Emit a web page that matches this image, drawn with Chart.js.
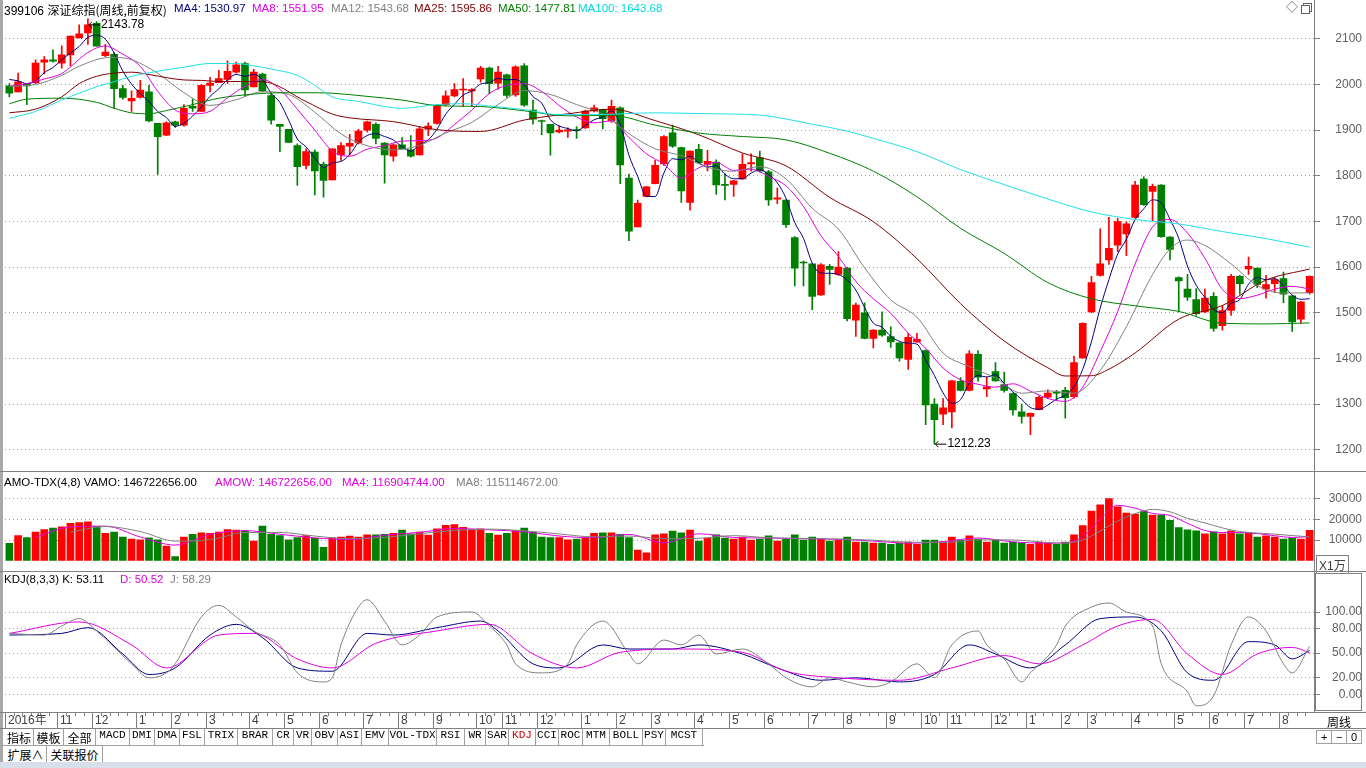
<!DOCTYPE html>
<html>
<head>
<meta charset="utf-8">
<title>399106 深证综指 周线</title>
<script src="https://cdn.jsdelivr.net/npm/chart.js@4.4.1/dist/chart.umd.min.js"></script>
<style>
  html, body { margin: 0; padding: 0; background: #fff; }
  body { position: relative; width: 1366px; height: 768px; overflow: hidden;
         font: 12px "Liberation Sans", Arial, "Noto Sans CJK SC", sans-serif; color: #000; }
  canvas { position: absolute; left: 0; }
  .t { position: absolute; white-space: nowrap; line-height: 14px; }
  .h { font-size: 11.5px; }
  .ln { position: absolute; background: #808080; }
  .tab { position: absolute; height: 16px; line-height: 16px; text-align: center; box-sizing: border-box;
         border-right: 1px solid #a0a0a0; font: 11px "Liberation Mono", monospace; }
  .cn { font: 12px "Noto Sans CJK SC", sans-serif; }
</style>
</head>
<body>
<canvas id="price" width="1366" height="471" style="top:0"></canvas>
<canvas id="vol" width="1366" height="100" style="top:471px"></canvas>
<canvas id="kdj" width="1366" height="158" style="top:571px"></canvas>

<!-- frame lines -->
<div class="ln" style="left:0;top:0;width:3px;height:762px;background:#a8a8a8"></div>
<div class="ln" style="left:1314px;top:0;width:1px;height:712px"></div>
<div class="ln" style="left:0;top:471px;width:1366px;height:1px"></div>
<div class="ln" style="left:0;top:571px;width:1366px;height:1px"></div>
<div class="ln" style="left:0;top:712px;width:1366px;height:1px"></div>
<div class="ln" style="left:0;top:728px;width:1366px;height:1px"></div>
<div class="ln" style="left:0;top:745px;width:704px;height:1px;background:#a0a0a0"></div>
<div class="ln" style="left:0;top:762px;width:1366px;height:6px;background:#d6dfea"></div>

<!-- panel headers -->
<div class="t" style="left:4px;top:1px">399106 <span class="cn">深证综指(周线,前复权)</span></div>
<div class="t h" style="left:174px;top:1px;color:#000080">MA4: 1530.97</div>
<div class="t h" style="left:252px;top:1px;color:#e000e0">MA8: 1551.95</div>
<div class="t h" style="left:331px;top:1px;color:#808080">MA12: 1543.68</div>
<div class="t h" style="left:414px;top:1px;color:#800000">MA25: 1595.86</div>
<div class="t h" style="left:498px;top:1px;color:#008000">MA50: 1477.81</div>
<div class="t h" style="left:578px;top:1px;color:#00d8e0">MA100: 1643.68</div>
<div class="t" style="left:1286px;top:1px;color:#606060">◇</div>
<div style="position:absolute;left:1303px;top:3px;width:7px;height:7px;border:1px solid #606060"></div>
<div style="position:absolute;left:1301px;top:5px;width:7px;height:7px;border:1px solid #606060;background:#fff"></div>

<div class="t h" style="left:4px;top:475px">AMO-TDX(4,8) VAMO: 146722656.00</div>
<div class="t h" style="left:215px;top:475px;color:#e000e0">AMOW: 146722656.00</div>
<div class="t h" style="left:342px;top:475px;color:#e000e0">MA4: 116904744.00</div>
<div class="t h" style="left:456px;top:475px;color:#808080">MA8: 115114672.00</div>
<div class="t" style="left:1316px;top:555px;border:1px solid #808080;padding:0 2px;line-height:12px;color:#404040">X1<span class="cn">万</span></div>

<div class="t h" style="left:4px;top:572px">KDJ(8,3,3) K: 53.11</div>
<div class="t h" style="left:120px;top:572px;color:#e000e0">D: 50.52</div>
<div class="t h" style="left:170px;top:572px;color:#808080">J: 58.29</div>
<div style="position:absolute;left:1315px;top:573px;width:47px;height:138px;border:1px solid #808080;box-sizing:border-box"></div>

<div class="t cn" style="left:1327px;top:713px">周线</div>
<div class="t" style="left:1316px;top:730px;width:46px;height:14px;border:1px solid #a0a0a0;box-sizing:border-box;line-height:12px;font-size:11px">
  <span style="position:absolute;left:4px">+</span><span style="position:absolute;left:14px;top:0;width:1px;height:12px;background:#a0a0a0"></span>
  <span style="position:absolute;left:19px">−</span><span style="position:absolute;left:29px;top:0;width:1px;height:12px;background:#a0a0a0"></span>
  <span style="position:absolute;left:34px">0</span>
</div>

<div id="tabs"></div>

<script>
// ---------------- weekly candles ----------------
const opens = [
  1997,1984,2002,2004,2049,2054,2047,2065,2102,2113, 2134,2063,2066,1991,1964,1972,1984,1915,1889,1918,
  1911,1952,1941,1998,2004,2011,2027,2046,1995,2023, 1976,1913,1902,1866,1823,1852,1825,1791,1846,1865,
  1872,1900,1913,1872,1843,1868,1857,1846,1902,1915, 1956,1975,1988,1986,2012,2036,2003,2021,1977,2041,
  1944,1921,1913,1896,1898,1901,1905,1942,1945,1921, 1949,1795,1688,1755,1783,1826,1894,1862,1742,1858,
  1825,1830,1781,1781,1793,1826,1840,1809,1749,1747, 1665,1611,1607,1539,1602,1584,1598,1484,1500,1444,
  1462,1448,1434,1398,1436,1417,1300,1278,1283,1350, 1330,1409,1333,1371,1343,1323,1283,1273,1288,1315,
  1325,1330,1316,1401,1502,1582,1616,1648,1673,1709, 1793,1766,1780,1666,1577,1552,1529,1502,1536,1472,
  1505,1580,1596,1598,1552,1564,1575,1537,1486,1544
];
const highs = [
  2002,2025,2002,2054,2061,2076,2085,2106,2131,2143.78, 2138,2088,2070,1998,1986,2009,1998,1915,1918,1920,
  1956,1968,2000,2016,2031,2052,2049,2049,2033,2025, 1981,1913,1902,1870,1859,1857,1830,1859,1873,1891,
  1902,1920,1916,1873,1870,1884,1888,1907,1916,1956, 1986,2002,2013,1991,2040,2038,2040,2023,2041,2046,
  1966,1922,1913,1909,1905,1908,1944,1955,1946,1966, 1951,1804,1747,1777,1834,1888,1911,1863,1855,1869,
  1856,1835,1805,1790,1848,1848,1854,1812,1773,1748, 1667,1613,1607,1608,1606,1634,1600,1521,1522,1463,
  1502,1469,1434,1455,1455,1419,1312,1312,1352,1358, 1417,1417,1359,1391,1370,1324,1300,1281,1318,1331,
  1330,1337,1405,1478,1580,1684,1709,1707,1699,1788, 1798,1782,1781,1667,1579,1584,1553,1552,1544,1516,
  1584,1582,1622,1598,1582,1577,1589,1537,1525,1581
];
const lows = [
  1973,1984,1956,2002,2023,2049,2036,2041,2102,2088, 2084,2061,1948,1968,1941,1970,1918,1803,1888,1906,
  1909,1941,1941,1984,2004,2002,2025,1975,1995,1984, 1913,1853,1873,1779,1815,1758,1753,1791,1834,1846,
  1870,1896,1870,1784,1832,1859,1841,1845,1888,1913, 1953,1973,1952,1952,2005,1980,1990,1972,1974,1952,
  1913,1890,1845,1894,1884,1882,1904,1940,1903,1917, 1783,1658,1688,1754,1782,1823,1862,1742,1725,1827,
  1811,1759,1747,1755,1792,1810,1808,1735,1739,1687, 1559,1559,1507,1538,1562,1582,1482,1448,1443,1423,
  1448,1424,1394,1376,1435,1255,1212.23,1255,1248,1329, 1329,1350,1316,1350,1326,1276,1258,1233,1287,1312,
  1308,1269,1313,1400,1500,1580,1606,1634,1625,1707, 1735,1702,1665,1616,1502,1527,1494,1500,1460,1462,
  1494,1541,1584,1555,1532,1544,1522,1459,1477,1541
];
const closes = [
  1981,2006,1997,2047,2054,2051,2065,2106,2111,2131, 2084,2071,1991,1972,1970,1988,1920,1886,1916,1911,
  1948,1948,1998,2003,2013,2029,2043,1988,2027,1986, 1922,1908,1873,1820,1853,1811,1790,1859,1866,1871,
  1898,1918,1882,1846,1868,1859,1843,1903,1909,1953, 1975,1989,1990,1989,2036,2002,2027,1976,2039,1955,
  1924,1919,1894,1900,1901,1899,1942,1949,1925,1952, 1824,1679,1740,1776,1823,1886,1865,1767,1854,1829,
  1832,1780,1779,1789,1825,1829,1810,1747,1752,1693, 1598,1609,1536,1605,1595,1600,1487,1517,1444,1462,
  1451,1436,1401,1446,1442,1298,1266,1292,1351,1330, 1410,1359,1338,1351,1330,1287,1273,1280,1315,1324,
  1324,1314,1391,1477,1566,1607,1641,1700,1695,1780, 1737,1777,1667,1639,1570,1534,1498,1532,1466,1505,
  1580,1564,1602,1562,1562,1573,1541,1480,1524,1580
];

// moving averages as drawn on the chart
const ma4 = [
  2011,2008,2002,2007.8,2026,2037.3,2054.3,2069,2083.3,2103.3, 2108,2099.3,2069.3,2029.5,2001,1980.3,1962.5,1941,1927.5,1908.3,
  1915.3,1930.8,1951.3,1974.3,1990.5,2010.8,2022,2018.3,2021.8,2011, 1980.8,1960.8,1922.3,1880.8,1863.5,1839.3,1818.5,1828.3,1831.5,1846.5,
  1873.5,1888.3,1892.3,1886,1878.5,1863.8,1854,1868.3,1878.5,1902, 1935,1956.5,1976.8,1985.8,2001,2004.3,2013.5,2010.3,2011,1999.3,
  1973.5,1959.3,1923,1909.3,1903.5,1898.5,1910.5,1922.8,1928.8,1942, 1912.5,1845,1798.8,1754.8,1754.5,1806,1837.5,1835,1843,1829,
  1819,1822,1803.5,1793.5,1794,1806,1813.5,1803,1784.5,1750.5, 1697.5,1663,1609,1587,1586.5,1584,1571.8,1549.8,1512,1477.5,
  1468.5,1448.3,1437.5,1433.5,1431.3,1396.8,1363,1324.5,1301.8,1309.8, 1345.8,1362.5,1359.3,1364.5,1344.5,1326.5,1310.3,1292.5,1288.8,1298,
  1310.8,1319.3,1338.3,1376.5,1437,1510.3,1572.8,1628.5,1660.8,1704, 1728,1747.3,1740.3,1705,1663.3,1602.5,1560.3,1533.5,1507.5,1500.3,
  1520.8,1528.8,1562.8,1577,1572.5,1574.8,1559.5,1539,1529.5,1530.97
];
// [week, value]
const ma8 = [[1,1996],[3,2002],[5,2012],[7,2024],[8,2038.4],[10,2070.3],[12,2084.1],[14,2066.4],[16,2039.8],[18,1985.3],
  [20,1944.3],[22,1935.9],[24,1941.3],[26,1970.8],[28,1996.3],[30,2010.9],[32,1989.5],[34,1945.9],[36,1900],[38,1854.5],
  [40,1842.9],[42,1858.3],[44,1866.3],[46,1876],[48,1877.1],[50,1882.9],[52,1912.4],[54,1943.9],[56,1980.4],[58,1998],
  [60,2001.8],[62,1984.8],[64,1954.3],[66,1928.9],[68,1916],[70,1920.3],[72,1883.9],[74,1848.4],[76,1825.6],[78,1795],
  [80,1817.5],[82,1829.5],[84,1811.9],[86,1814.6],[88,1798.9],[90,1778],[92,1732.9],[94,1668.8],[96,1623.5],[98,1568.4],
  [100,1530.8],[102,1499],[104,1455.5],[106,1422.5],[108,1379],[110,1353.3],[112,1343.5],[114,1337.1],[116,1344.5],[118,1328.5],
  [120,1312.3],[122,1305.9],[124,1337.3],[126,1414.8],[128,1502.5],[130,1607.1],[132,1687.9],[134,1704.5],[136,1674.9],[138,1619.3],
  [140,1551.4],[142,1531.1],[144,1538.6],[146,1551.8],[148,1558],[150,1551.95]];
const ma12 = [[1,1996],[4,2000],[7,2020],[9,2040],[12,2058.7],[13,2059.5],[15,2054.4],[18,2024.6],[21,1982.3],[24,1954.3],
  [27,1966.9],[30,1984.2],[33,1978.2],[36,1939.4],[39,1891.9],[42,1865.8],[45,1856.8],[48,1866.9],[51,1893.8],[54,1917.2],
  [57,1956.3],[60,1986.7],[63,1978.3],[66,1956],[69,1935.3],[72,1892.3],[75,1859.2],[78,1844],[81,1818.9],[84,1810],
  [87,1820.4],[90,1793.3],[93,1728.9],[96,1683.3],[99,1598.6],[102,1528.3],[105,1490.5],[108,1411.8],[111,1382.1],[114,1357],
  [117,1323.8],[120,1329],[123,1323.8],[126,1374],[129,1469.5],[132,1584.1],[134,1639.8],[136,1659.4],[138,1647.5],[141,1607.1],
  [144,1559.9],[147,1543.3],[150,1543.68]];
const ma25 = [[1,1938],[4,1946],[7,1973],[9,2002],[11,2018],[13,2025],[15,2027],[17,2022],[19,2015],[21,2010],
  [23,2009],[25,2006.7],[30,2006.2],[35,1962.7],[38,1935.3],[40,1927.1],[45,1918.7],[50,1901],[55,1897.2],[60,1922.2],
  [65,1935.8],[70,1946],[75,1921],[80,1889.9],[85,1850.1],[90,1821.8],[95,1752.9],[100,1699.6],[105,1618.6],[110,1519.9],
  [115,1438.2],[120,1379.6],[122,1361.6],[125,1362.1],[127,1376.5],[130,1412],[135,1486.1],[140,1516],[145,1571.6],[150,1595.86]];
const ma50 = [[1,1958],[3,1968],[7,1970],[11,1961],[13,1948],[15,1938],[17,1936],[19,1943],[22,1956],[25,1970],
  [29,1979],[32,1982],[35,1982],[38,1981],[42,1974],[46,1966],[50,1953.9],[55,1951.7],[60,1942.4],[65,1931.4],
  [70,1932.4],[75,1911],[80,1893.6],[85,1886.1],[90,1878.8],[95,1849.4],[100,1810.3],[105,1754.2],[110,1685],[115,1630],
  [120,1566.2],[125,1530.8],[130,1515.3],[135,1503],[140,1477.1],[145,1475.6],[150,1477.81]];
const ma100 = [[1,1926],[4,1941],[7,1966],[11,1995],[13,2006],[15,2018],[18,2029],[21,2038],[24,2046],[27,2046],
  [29,2041],[31,2034],[34,2020],[36,1998],[38,1973],[41,1963],[46,1948],[50,1956],[53,1958],[56,1953],
  [60,1945],[64,1934],[68,1934],[75,1938],[81,1936],[87,1933],[93,1913],[97,1898],[100,1882.1],[105,1853],
  [110,1813.7],[115,1780.7],[120,1749.3],[125,1720.9],[130,1704.4],[135,1694.6],[140,1677.9],[145,1662.5],[150,1643.68]];

// ---------------- weekly turnover, x1万 ----------------
const volumes = [
  8450,12140,11220,13860,15050,15840,16370,18080,18480,18740, 16500,13200,13860,11480,10430,10160,11090,10160,7130,1980,
  11480,12800,13460,13200,13860,15050,14780,14520,9500,16760, 12800,12140,10160,11220,12140,10820,6470,11090,11480,11880,
  11480,12540,12540,12800,13200,14780,13070,13860,12410,15440, 17160,17420,16100,15050,15440,13200,12410,13200,14520,15840,
  13860,11480,11220,11220,10160,10430,10820,13200,13460,13460, 12800,11220,5150,3830,12540,13070,14390,13460,14780,9500,
  11000,12500,11000,10500,11500,10000,10500,12000,9500,10500, 12500,10000,11500,10500,9500,10000,11500,9000,9000,8500,
  8500,8000,8500,9000,8000,10000,10000,9000,11500,10000, 12000,10500,9000,10000,8500,9000,8500,8000,9000,8500,
  8000,9000,12500,17000,24000,27000,30000,26000,23000,22500, 24000,22000,22000,19500,16000,15000,14500,13000,14000,13000,
  14500,13000,13500,11500,12000,11500,10500,11000,10500,14672
];
const volMa4 = [[4,11418],[8,16335],[12,16730],[16,11483],[20,7590],[24,12735],[28,14553],[32,12800],[36,11085],[40,10230],
  [44,12340],[48,13728],[52,15608],[56,14948],[60,13993],[64,11945],[68,11153],[72,12735],[76,8648],[80,13033],
  [84,11250],[88,11000],[92,10625],[96,10375],[100,9500],[104,8500],[108,9250],[112,11000],[116,9125],[120,8500],
  [122,8625],[124,11625],[126,20125],[128,26750],[130,25375],[132,22875],[134,21875],[136,18125],[138,14625],[140,13625],
  [142,13625],[144,13125],[146,12125],[148,11250],[150,11690]];
const volMa8 = [[8,13876],[12,16533],[16,14106],[20,9536],[24,10163],[28,13644],[32,13676],[36,11943],[40,10658],[44,11285],
  [48,13034],[52,14668],[56,15278],[60,14470],[64,12969],[68,11549],[72,11944],[76,10691],[80,10840],[84,12141],
  [88,11125],[92,10813],[96,10500],[100,9938],[104,9000],[108,8875],[112,10125],[116,10063],[120,8813],[122,8563],
  [124,10063],[126,14375],[128,19188],[130,22750],[132,24813],[134,23625],[136,20500],[138,18250],[140,15875],[142,14125],
  [144,13375],[146,12875],[148,12188],[150,11511]];

// ---------------- KDJ(8,3,3) ----------------
const kLine = [[1,72],[7,74],[10,81],[14,49],[17,24],[20,32],[24,72],[27,85],[30,69],[34,32],[38,28],[42,74],[45,72],
  [50,81],[55,89],[57,77],[61,37],[64,32],[69,60],[72,55],[77,55],[80,60],[85,49],[89,32],[94,17],[98,20],[103,15],
  [107,24],[111,60],[114,49],[118,32],[122,60],[126,92],[130,94],[133,77],[136,26],[139,17],[143,64],[146,60],[148,43],[150,53.11]];
const dLine = [[1,74],[9,88],[15,60],[19,32],[25,72],[29,74],[34,43],[38,32],[43,62],[50,77],[56,85],[61,49],[66,32],
  [71,51],[78,55],[85,51],[90,28],[96,20],[103,17],[109,32],[115,47],[119,37],[124,60],[128,83],[132,91],[136,49],
  [140,24],[144,49],[148,57],[150,50.52]];
const jLine = [[1,74],[5,72],[7,83],[9,92],[11,77],[15,37],[17,20],[19,26],[20,37],[23,94],[25,108],[27,94],[29,77],
  [32,60],[34,26],[37,15],[38,20],[39,60],[41,106],[42,115],[44,89],[46,60],[48,72],[50,94],[54,100],[56,83],[58,60],
  [59,37],[62,26],[65,37],[66,60],[69,89],[72,49],[73,37],[76,66],[78,60],[80,72],[82,49],[85,55],[88,37],[90,20],
  [93,9],[95,20],[97,15],[100,9],[102,15],[105,37],[107,20],[109,60],[112,77],[113,60],[115,43],[117,15],[118,26],
  [121,60],[122,83],[125,106],[127,111],[129,100],[132,83],[133,37],[136,3],[137,-14],[139,-2],[141,60],[143,94],
  [145,77],[147,37],[148,26],[150,58.29]];

// axis ticks
const priceTicks = [1200, 1300, 1400, 1500, 1600, 1700, 1800, 1900, 2000, 2100];
const volTicks = [10000, 20000, 30000];
const kdjTicks = [0, 20, 50, 80, 100];
// first week of each month, [week, label]
const monthMarks = [[1,'2016年'],[7,'11'],[11,'12'],[16,'1'],[20,'2'],[24,'3'],[29,'4'],[33,'5'],[37,'6'],[42,'7'],
  [46,'8'],[50,'9'],[55,'10'],[58,'11'],[62,'12'],[67,'1'],[71,'2'],[75,'3'],[80,'4'],[84,'5'],[88,'6'],[93,'7'],
  [97,'8'],[102,'9'],[106,'10'],[109,'11'],[114,'12'],[118,'1'],[122,'2'],[125,'3'],[130,'4'],[135,'5'],[139,'6'],
  [143,'7'],[147,'8']];

// ---------------- helpers ----------------
const RED = '#ff0000', GREEN = '#008000';
const weeks = closes.map((c, i) => i + 1);
function pick(pairs) {
  const a = weeks.map(() => null);
  pairs.forEach(([w, v]) => { a[w - 1] = v; });
  return a;
}
const barColor = ctx => closes[ctx.dataIndex] >= opens[ctx.dataIndex] ? RED : GREEN;
const line = (data, color) => ({
  type: 'line', data, borderColor: color, borderWidth: 1, pointRadius: 0,
  spanGaps: true, cubicInterpolationMode: 'monotone', order: 0
});
function yAxis(min, max, tickValues, fmt) {
  return {
    position: 'right', min, max,
    afterFit(s) { s.width = 48; },
    afterBuildTicks(s) { s.ticks = tickValues.map(v => ({ value: v })); },
    grid: { color: '#a0a0a0', tickColor: '#808080', tickLength: 6 },
    border: { display: false, dash: [1, 3] },
    ticks: { color: '#606060', crossAlign: 'far', autoSkip: false, callback: fmt,
             font: { size: 12, family: '"Liberation Sans", Arial, sans-serif' } }
  };
}
const xAxis = { type: 'category', display: false, offset: true, grid: { display: false } };
const base = (padding, y) => ({
  responsive: false, animation: false, devicePixelRatio: 1, events: [],
  layout: { padding },
  plugins: { legend: { display: false }, tooltip: { enabled: false } },
  scales: { x: xAxis, y }
});

// high / low marks on the price panel
const extremes = {
  id: 'extremes',
  afterDatasetsDraw(chart) {
    const { x, y } = chart.scales, ctx = chart.ctx;
    const hi = highs.indexOf(Math.max(...highs));
    const lo = lows.indexOf(Math.min(...lows));
    const mark = (i, v, dy) => {
      const px = x.getPixelForValue(i), py = y.getPixelForValue(v) + dy;
      ctx.beginPath();
      ctx.moveTo(px + 1, py); ctx.lineTo(px + 12, py);
      ctx.moveTo(px + 1, py); ctx.lineTo(px + 4, py - 3);
      ctx.moveTo(px + 1, py); ctx.lineTo(px + 4, py + 3);
      ctx.stroke();
      ctx.fillText(v.toFixed(2), px + 13, py);
    };
    ctx.save();
    ctx.strokeStyle = '#000'; ctx.fillStyle = '#000'; ctx.lineWidth = 1;
    ctx.font = '12px "Liberation Sans", Arial, sans-serif';
    ctx.textBaseline = 'middle';
    mark(hi, highs[hi], 6);
    mark(lo, lows[lo], 0);
    ctx.restore();
  }
};

// time axis strip under the KDJ panel
const timeAxis = {
  id: 'timeAxis',
  afterDraw(chart) {
    const x = chart.scales.x, ctx = chart.ctx;
    const half = (x.getPixelForValue(1) - x.getPixelForValue(0)) / 2;
    const top = chart.chartArea.bottom + 1;
    ctx.save();
    ctx.strokeStyle = '#808080'; ctx.lineWidth = 1;
    ctx.beginPath();
    weeks.forEach((w, i) => {
      const px = Math.round(x.getPixelForValue(i) - half) + 0.5;
      ctx.moveTo(px, top); ctx.lineTo(px, top + 3);
    });
    monthMarks.forEach(([w]) => {
      const px = Math.round(x.getPixelForValue(w - 1) - half) + 0.5;
      ctx.moveTo(px, top); ctx.lineTo(px, top + 15);
    });
    ctx.stroke();
    ctx.fillStyle = '#404040';
    ctx.font = '12px "Liberation Sans", "Noto Sans CJK SC", sans-serif';
    ctx.textBaseline = 'middle';
    monthMarks.forEach(([w, lab]) => {
      const px = Math.round(x.getPixelForValue(w - 1) - half);
      ctx.fillText(lab, px + 3, top + 8);
    });
    ctx.restore();
  }
};

// ---------------- price panel ----------------
new Chart(document.getElementById('price'), {
  type: 'bar',
  data: {
    labels: weeks,
    datasets: [
      line(pick(ma100), '#20e0e8'),
      line(pick(ma50), '#008000'),
      line(pick(ma25), '#800000'),
      line(pick(ma12), '#808080'),
      line(pick(ma8), '#e000e0'),
      line(ma4, '#000080'),
      { data: opens.map((o, i) => [o, closes[i]]), backgroundColor: barColor, barThickness: 7,
        minBarLength: 1, grouped: false, order: 1 },
      { data: lows.map((l, i) => [l, highs[i]]), backgroundColor: barColor, barThickness: 1,
        grouped: false, order: 2 }
    ]
  },
  options: base({ left: 5, right: 4, top: 18, bottom: 1 }, yAxis(1175.8, 2145.7, priceTicks, v => v)),
  plugins: [extremes]
});

// ---------------- turnover panel ----------------
new Chart(document.getElementById('vol'), {
  type: 'bar',
  data: {
    labels: weeks,
    datasets: [
      line(pick(volMa8), '#808080'),
      line(pick(volMa4), '#e000e0'),
      { data: volumes, backgroundColor: barColor, barThickness: 7, grouped: false, order: 1 }
    ]
  },
  options: base({ left: 5, right: 4, top: 2, bottom: 2 }, yAxis(0, 38400, volTicks, v => String(v)))
});

// ---------------- KDJ panel ----------------
new Chart(document.getElementById('kdj'), {
  type: 'line',
  data: {
    labels: weeks,
    datasets: [
      line(pick(jLine), '#808080'),
      line(pick(dLine), '#e000e0'),
      line(pick(kLine), '#000080')
    ]
  },
  options: base({ left: 5, right: 4, top: 1, bottom: 17 }, yAxis(-21.6, 137.5, kdjTicks, v => v.toFixed(2))),
  plugins: [timeAxis]
});

// ---------------- indicator tabs ----------------
const tabs = [['指标',5,34],['模板',34,64],['全部',64,96],['MACD',96,130],['DMI',130,155],['DMA',155,180],
  ['FSL',180,205],['TRIX',205,238],['BRAR',238,273],['CR',273,294],['VR',294,312],['OBV',312,338],['ASI',338,362],
  ['EMV',362,389],['VOL-TDX',389,437],['RSI',437,465],['WR',465,486],['SAR',486,509],['KDJ',509,536],['CCI',536,559],
  ['ROC',559,583],['MTM',583,610],['BOLL',610,643],['PSY',643,666],['MCST',666,703]];
const tabs2 = [['扩展∧',5,47],['关联报价',47,103]];
const holder = document.getElementById('tabs');
function addTab([txt, l, r], top) {
  const d = document.createElement('div');
  d.className = 'tab' + (/[\u4e00-\u9fff]/.test(txt) ? ' cn' : '');
  d.style.left = l + 'px'; d.style.top = top + 'px'; d.style.width = (r - l) + 'px';
  if (txt === 'KDJ') d.style.color = '#d00000';
  d.textContent = txt;
  holder.appendChild(d);
}
tabs.forEach(t => addTab(t, 729));
tabs2.forEach(t => addTab(t, 746));
</script>
</body>
</html>
